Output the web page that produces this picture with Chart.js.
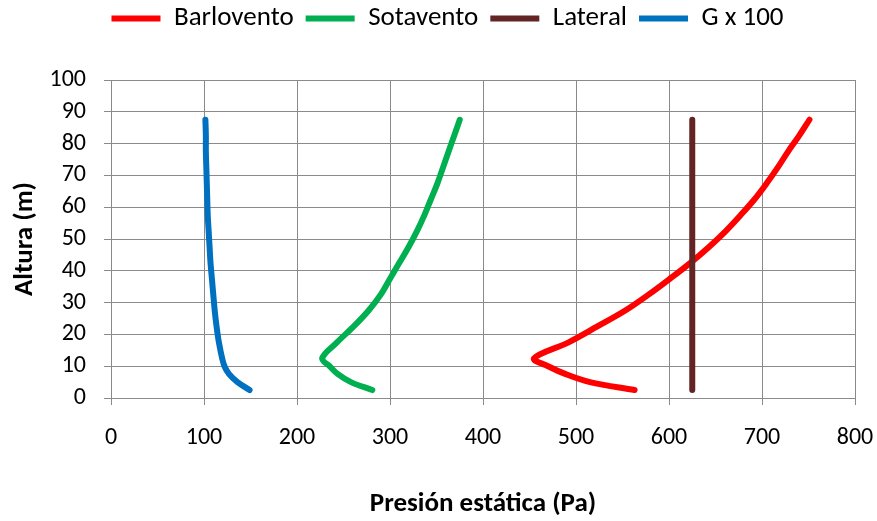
<!DOCTYPE html>
<html>
<head>
<meta charset="utf-8">
<script src="https://cdn.jsdelivr.net/npm/chart.js@4/dist/chart.umd.min.js"></script>
<style>
  html, body { margin: 0; padding: 0; background: #fff; }
  #wrap { width: 877px; height: 521px; }
</style>
</head>
<body>
<div id="wrap"><canvas id="chart" width="877" height="521"></canvas></div>
<script>
// alturas (m) de cada punto
const heights = [2.5, 5, 7.5, 10, 12.5, 17.5, 22.5, 27.5, 32.5, 37.5, 42.5, 47.5, 52.5, 57.5, 62.5, 67.5, 72.5, 77.5, 82.5, 87.5];
const barlovento = [563, 515, 489, 470, 455, 492, 523, 553, 578, 601, 623, 643, 661, 677, 692, 705, 717, 728, 740, 751];
const sotavento = [281, 258, 244, 235, 227, 243, 261, 277, 290, 300, 310, 320, 329, 337, 344, 351, 357, 363, 369, 375];
const gx100 = [149, 136, 127, 122, 119.5, 116, 113.5, 111.5, 110, 108.5, 107, 106, 105, 104, 103.5, 103, 102.5, 102, 102, 101.5];
const lateralHeights = [2.5, 87.5];
const lateral = [625, 625];

const xTicks = [0, 100, 200, 300, 400, 500, 600, 700, 800];
const yTicks = [0, 10, 20, 30, 40, 50, 60, 70, 80, 90, 100];

const FONT = 'Carlito, Calibri, "Liberation Sans", sans-serif';
const GRID = '#8a8a8a';

function toPoints(xs, ys) {
  return xs.map((x, i) => ({ x: x, y: ys[i] }));
}

function serie(label, xs, ys, color, order) {
  return {
    label: label,
    data: toPoints(xs, ys),
    borderColor: color,
    backgroundColor: color,
    borderWidth: 6,
    borderCapStyle: 'round',
    borderJoinStyle: 'round',
    showLine: true,
    pointRadius: 0,
    tension: 0.35,
    order: order
  };
}

// leyenda de 80px de alto, movida para quedar como en el original
const legendHeight = {
  id: 'legendHeight',
  beforeInit(chart) {
    const fit = chart.legend.fit;
    chart.legend.fit = function () {
      fit.call(this);
      this.height = 80;
    };
  },
  afterLayout(chart) {
    const lg = chart.legend;
    lg.top -= 7;
    lg.bottom -= 7;
    lg.left += 10;
    lg.right += 10;
  }
};

new Chart(document.getElementById('chart'), {
  type: 'scatter',
  data: {
    datasets: [
      serie('Barlovento', barlovento, heights, '#ff0000', 2),
      serie('Sotavento', sotavento, heights, '#00b050', 2),
      serie('Lateral', lateral, lateralHeights, '#632523', 1),
      serie('G x 100', gx100, heights, '#0070c0', 0)
    ]
  },
  options: {
    responsive: false,
    animation: false,
    layout: { padding: { left: 20, right: 22, top: 0, bottom: 0 } },
    plugins: {
      tooltip: { enabled: false },
      legend: {
        position: 'top',
        labels: {
          usePointStyle: true,
          pointStyle: 'line',
          pointStyleWidth: 49,
          padding: 12,
          color: '#000',
          font: { family: FONT, size: 27 },
          sort: (a, b) => a.datasetIndex - b.datasetIndex
        }
      }
    },
    scales: {
      x: {
        type: 'linear',
        min: 0,
        max: 800,
        afterBuildTicks: s => { s.ticks = xTicks.map(v => ({ value: v })); },
        afterFit: s => { s.height = 123; s.paddingLeft = 0; s.paddingRight = 0; },
        ticks: { color: '#000', font: { family: FONT, size: 24 }, padding: 19, maxRotation: 0 },
        grid: { color: GRID, lineWidth: 1, tickLength: 7, tickColor: GRID },
        border: { color: GRID, width: 1 },
        title: {
          display: true,
          text: 'Presión estática (Pa)',
          color: '#000',
          font: { family: FONT, size: 27, weight: 'bold' },
          padding: { top: 0, bottom: 1 }
        }
      },
      y: {
        type: 'linear',
        min: 0,
        max: 100,
        afterBuildTicks: s => { s.ticks = yTicks.map(v => ({ value: v })); },
        afterFit: s => { s.width = 91; },
        ticks: { color: '#000', font: { family: FONT, size: 24 }, padding: 18 },
        grid: { color: GRID, lineWidth: 1, tickLength: 7, tickColor: GRID },
        border: { color: GRID, width: 1 },
        title: {
          display: true,
          text: 'Altura (m)',
          color: '#000',
          font: { family: FONT, size: 27, weight: 'bold' },
          padding: { top: -11, bottom: 0 }
        }
      }
    }
  },
  plugins: [legendHeight]
});
</script>
</body>
</html>
